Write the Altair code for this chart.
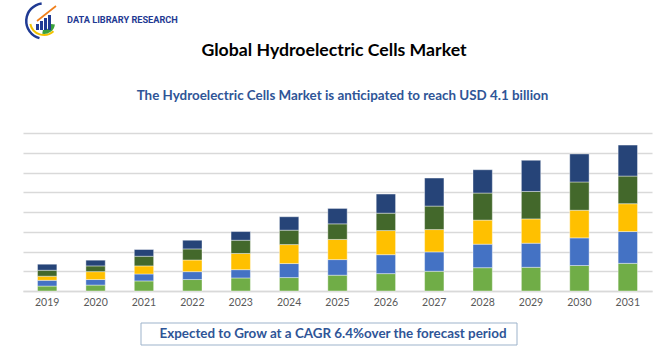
import altair as alt
import pandas as pd

years = ["2019", "2020", "2021", "2022", "2023", "2024", "2025",
         "2026", "2027", "2028", "2029", "2030", "2031"]
series = ["Segment 1", "Segment 2", "Segment 3", "Segment 4", "Segment 5"]
seg1 = [0.25, 0.30, 0.51, 0.58, 0.66, 0.68, 0.80, 0.88, 1.00, 1.18, 1.20, 1.29, 1.40]
seg2 = [0.29, 0.28, 0.35, 0.40, 0.42, 0.71, 0.79, 0.96, 0.98, 1.19, 1.22, 1.40, 1.61]
seg3 = [0.21, 0.40, 0.41, 0.59, 0.82, 0.96, 1.02, 1.22, 1.13, 1.22, 1.23, 1.40, 1.41]
seg4 = [0.30, 0.29, 0.49, 0.56, 0.67, 0.73, 0.79, 0.88, 1.19, 1.37, 1.39, 1.43, 1.40]
seg5 = [0.31, 0.29, 0.34, 0.44, 0.44, 0.68, 0.78, 0.97, 1.42, 1.18, 1.58, 1.42, 1.57]
colors = ["#70AD47", "#4472C4", "#FFC000", "#43682B", "#264478"]

title_text = "Global Hydroelectric Cells Market"
subtitle_text = "The Hydroelectric Cells Market is anticipated to reach USD 4.1 billion"
cagr_text = "Expected to Grow at a CAGR 6.4%over the forecast period"
logo_text = "DATA LIBRARY RESEARCH"

rows = []
for si, (name, vals) in enumerate(zip(series, [seg1, seg2, seg3, seg4, seg5])):
    for y, v in zip(years, vals):
        rows.append({"year": y, "series": name, "idx": si, "value": v})
df = pd.DataFrame(rows)

W, H = 629, 158

bars = alt.Chart(df).mark_bar(stroke="white", strokeWidth=0.4).encode(
    x=alt.X("year:O", title=None,
            scale=alt.Scale(paddingInner=0.6, paddingOuter=0.3),
            axis=alt.Axis(labelAngle=0, ticks=False, domainColor="#D9D9D9",
                          domainWidth=1.5, labelColor="#595959", labelFont="Lato",
                          labelFontSize=10.5, labelPadding=6)),
    y=alt.Y("sum(value):Q", title=None,
            scale=alt.Scale(domain=[0, 8], nice=False),
            axis=alt.Axis(values=list(range(0, 9)), labels=False, ticks=False,
                          domain=False, gridColor="#D9D9D9", gridWidth=1.3)),
    color=alt.Color("series:N", scale=alt.Scale(domain=series, range=colors), legend=None),
    order=alt.Order("idx:Q", sort="ascending"),
)

def text_layer(txt, x, y, size, color, weight="bold", font="Lato", align="center"):
    return alt.Chart(pd.DataFrame({"t": [txt]})).mark_text(
        font=font, fontSize=size, fontWeight=weight, color=color, align=align,
        baseline="middle").encode(x=alt.value(x), y=alt.value(y), text="t:N")

title = text_layer(title_text, 311, -82, 17.7, "#000000")
subtitle = text_layer(subtitle_text, 319.5, -37, 13.4, "#2F5597")

box = alt.Chart(pd.DataFrame({"a": [0]})).mark_rect(
    fill="white", stroke="#9DB3CB", strokeWidth=1).encode(
    x=alt.value(118), x2=alt.value(494), y=alt.value(190), y2=alt.value(212))
cagr = text_layer(cagr_text, 310, 201, 13.4, "#2F5597")

# logo (decoration)
logo_arcs = pd.DataFrame({
    "t1": [3.4, 2.4], "t2": [6.15, 4.5], "r1": [16.5, 13], "r2": [19, 15],
    "c": ["#1F3A93", "#F2C200"]})
arcs = alt.Chart(logo_arcs).mark_arc().encode(
    x=alt.value(21), y=alt.value(-112),
    theta=alt.Theta("t1:Q", scale=None), theta2="t2:Q",
    radius=alt.Radius("r1:Q", scale=None), radius2="r2:Q",
    color=alt.Color("c:N", scale=None))
swoosh = alt.Chart(pd.DataFrame({"a": [0]})).mark_arc(
    color="#3BA03B", theta=1.7, theta2=3.3, innerRadius=7, outerRadius=11).encode(
    x=alt.value(21), y=alt.value(-110))
logo_bar_x = [13, 17, 21, 25]
logo_bar_h = [6, 9, 12, 15]
lbars = [alt.Chart(pd.DataFrame({"a": [0]})).mark_rect(color="#1F3A93").encode(
    x=alt.value(bx), x2=alt.value(bx + 3), y=alt.value(-103), y2=alt.value(-103 - bh))
    for bx, bh in zip(logo_bar_x, logo_bar_h)]
arrow = alt.Chart(pd.DataFrame({"a": [0]})).mark_rule(
    color="#F07F1A", strokeWidth=1.6).encode(
    x=alt.value(14), y=alt.value(-112), x2=alt.value(33), y2=alt.value(-127))
logo = text_layer(logo_text, 44, -113, 9.2, "#1F3A93", font="Roboto", align="left")

chart = alt.layer(bars, title, subtitle, box, cagr, arcs, swoosh, *lbars, arrow, logo).properties(
    width=W, height=H,
    background="white",
    padding={"left": 23, "top": 133, "right": 18, "bottom": 59},
    autosize=alt.AutoSizeParams(type="none"),
).configure_view(strokeWidth=0)

chart.save("out.html", embed_options={"renderer": "svg", "actions": False})
